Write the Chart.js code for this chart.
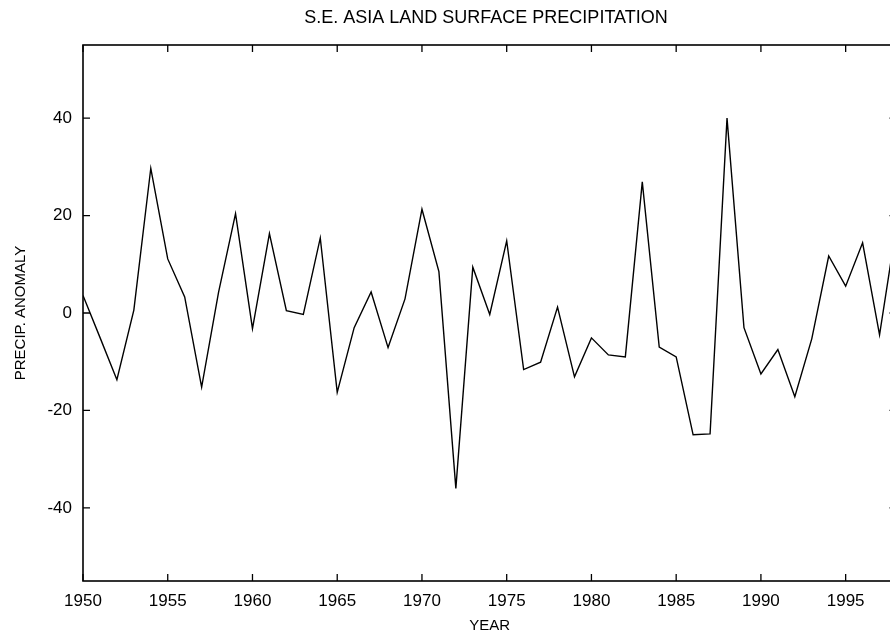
<!DOCTYPE html>
<html>
<head>
<meta charset="utf-8">
<script src="https://cdn.jsdelivr.net/npm/chart.js@4/dist/chart.umd.min.js"></script>
<style>
  html, body { margin: 0; padding: 0; background: #fff; overflow: hidden; }
  #wrap { width: 910px; height: 639px; position: relative; }
</style>
</head>
<body>
<div id="wrap"><canvas id="precipChart"></canvas></div>
<script>
const years = [
  1950, 1951, 1952, 1953, 1954, 1955, 1956, 1957, 1958, 1959,
  1960, 1961, 1962, 1963, 1964, 1965, 1966, 1967, 1968, 1969,
  1970, 1971, 1972, 1973, 1974, 1975, 1976, 1977, 1978, 1979,
  1980, 1981, 1982, 1983, 1984, 1985, 1986, 1987, 1988, 1989,
  1990, 1991, 1992, 1993, 1994, 1995, 1996, 1997, 1998
];
const anomaly = [
  3.6, -5.0, -13.7, 0.6, 29.7, 11.1, 3.3, -15.2, 4.3, 20.4,
  -3.2, 16.3, 0.5, -0.3, 15.4, -16.3, -3.0, 4.3, -7.1, 2.9,
  21.3, 8.5, -36.0, 9.4, -0.3, 14.8, -11.6, -10.1, 1.2, -13.1,
  -5.1, -8.6, -9.0, 26.9, -7.0, -9.0, -25.0, -24.8, 40.0, -3.0,
  -12.5, -7.5, -17.2, -5.3, 11.7, 5.5, 14.4, -4.5, 18.0
];
const xTicks = [1950, 1955, 1960, 1965, 1970, 1975, 1980, 1985, 1990, 1995];
const yTicks = [-40, -20, 0, 20, 40];

const FONT = "'Liberation Sans', Arial, Helvetica, sans-serif";

// frame, inward ticks on all four sides, and the title
const framePlugin = {
  id: "frame",
  afterDraw(chart) {
    const { ctx, chartArea: a, scales } = chart;
    const len = 7;
    ctx.save();
    ctx.strokeStyle = "#000";
    ctx.lineWidth = 1.6;
    ctx.strokeRect(a.left, a.top, a.right - a.left, a.bottom - a.top);
    ctx.lineWidth = 1.3;
    ctx.beginPath();
    xTicks.forEach((v) => {
      const px = scales.x.getPixelForValue(v);
      ctx.moveTo(px, a.bottom);
      ctx.lineTo(px, a.bottom - len);
      ctx.moveTo(px, a.top);
      ctx.lineTo(px, a.top + len);
    });
    yTicks.forEach((v) => {
      const py = scales.y.getPixelForValue(v);
      ctx.moveTo(a.left, py);
      ctx.lineTo(a.left + len, py);
      ctx.moveTo(a.right, py);
      ctx.lineTo(a.right - len, py);
    });
    ctx.stroke();

    ctx.fillStyle = "#000";
    ctx.font = "18px " + FONT;
    ctx.textAlign = "center";
    ctx.textBaseline = "middle";
    ctx.fillText("S.E. ASIA LAND SURFACE PRECIPITATION", 486, 18);
    ctx.restore();
  },
};

new Chart(document.getElementById("precipChart"), {
  type: "line",
  data: {
    datasets: [
      {
        label: "Precip. anomaly",
        data: years.map((y, i) => ({ x: y, y: anomaly[i] })),
        borderColor: "#000",
        borderWidth: 1.4,
        pointRadius: 0,
        tension: 0,
        fill: false,
      },
    ],
  },
  options: {
    responsive: true,
    maintainAspectRatio: false,
    animation: false,
    layout: { padding: { top: 45, right: 13.5, left: 0, bottom: 0 } },
    plugins: {
      legend: { display: false },
      tooltip: { enabled: false },
      title: { display: false },
    },
    scales: {
      x: {
        type: "linear",
        min: 1950,
        max: 1998,
        afterBuildTicks: (scale) => {
          scale.ticks = xTicks.map((v) => ({ value: v }));
        },
        afterFit: (scale) => {
          scale.height = 58;
        },
        grid: { display: false, drawTicks: false },
        border: { display: false },
        ticks: {
          color: "#000",
          font: { family: FONT, size: 17 },
          padding: 10,
          maxRotation: 0,
          callback: (v) => String(v),
        },
        title: {
          display: true,
          text: "YEAR",
          color: "#000",
          font: { family: FONT, size: 15 },
          padding: { top: 0, bottom: 4 },
        },
      },
      y: {
        min: -55,
        max: 55,
        afterBuildTicks: (scale) => {
          scale.ticks = yTicks.map((v) => ({ value: v }));
        },
        afterFit: (scale) => {
          scale.width = 83;
        },
        grid: { display: false, drawTicks: false },
        border: { display: false },
        ticks: {
          color: "#000",
          font: { family: FONT, size: 17 },
          padding: 11,
        },
        title: {
          display: true,
          text: "PRECIP. ANOMALY",
          color: "#000",
          font: { family: FONT, size: 15 },
          padding: { top: 12, bottom: 0 },
        },
      },
    },
  },
  plugins: [framePlugin],
});
</script>
</body>
</html>
